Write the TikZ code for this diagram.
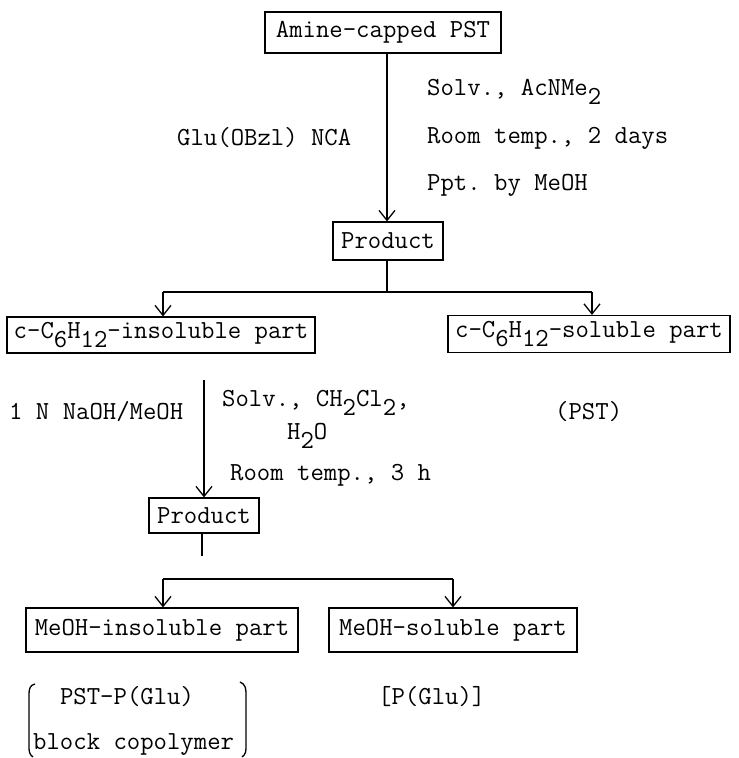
\documentclass[tikz,border=0pt]{standalone}
\usepackage{fontspec}
\usetikzlibrary{arrows.meta}
\newcommand{\lsub}[1]{\raisebox{-9pt}{#1}}
\begin{document}
\frenchspacing
\begin{tikzpicture}[x=1pt,y=-1pt,
  every node/.style={font=\ttfamily\fontsize{26}{30}\selectfont, inner sep=0pt},
  box/.style={draw, line width=1.2pt, minimum height=38pt},
  lbl/.style={anchor=west},
  conn/.style={line width=1.3pt},
  arr/.style={conn, -{Straight Barb[length=10pt,width=16pt,line width=1.3pt]}}]
\useasboundingbox (0,0) rectangle (739,758);
% boxes
\node[box, minimum width=236pt, minimum height=41pt] (top) at (383,32.5) {Amine-capped PST};
\node[box, minimum width=110pt] (prod1) at (388,241) {Product};
\node[box, minimum width=308pt, minimum height=36pt] (cins) at (161,335) {c-C\lsub{6}H\lsub{12}-insoluble part};
\node[box, minimum width=282pt, minimum height=37pt] (csol) at (589,334) {c-C\lsub{6}H\lsub{12}-soluble part};
\node[box, minimum width=110pt, minimum height=35pt] (prod2) at (204,515.5) {Product};
\node[box, minimum width=272pt, minimum height=44pt] (mins) at (162,630) {MeOH-insoluble part};
\node[box, minimum width=248pt, minimum height=44pt] (msol) at (453,630) {MeOH-soluble part};
% labels
\node[lbl] (g1) at (177,138) {Glu(OBzl) NCA};
\node[lbl] (c1) at (427,92) {Solv., AcNMe\lsub{2}};
\node[lbl] (c2) at (427,138) {Room temp., 2 days};
\node[lbl] (c3) at (427,185) {Ppt. by MeOH};
\node[lbl] (n1) at (9,412) {1 N NaOH/MeOH};
\node[lbl] (d1) at (222,403) {Solv., CH\lsub{2}Cl\lsub{2},};
\node[lbl] (d2) at (287,436) {H\lsub{2}O};
\node[lbl] (d3) at (230,475) {Room temp., 3 h};
\node[lbl] (pst) at (555,412) {(PST)};
\node (b1) at (127,697) {PST-P(Glu)};
\node[lbl] (b2) at (33,745) {block copolymer};
\node[lbl] (pg) at (378,697) {[P(Glu)]};
% brackets
\draw[conn] (35,684) .. controls (30,685) and (29,689) .. (29,694) -- (29,748) .. controls (29,752) and (30,755) .. (33,757);
\draw[conn] (240,682) .. controls (245,684) and (246,688) .. (246,693) -- (246,748) .. controls (246,752) and (245,755) .. (242,757);
% connectors
\coordinate (j1) at (387,292);
\coordinate (jl) at (163,292);
\coordinate (jr) at (592,292);
\draw[arr] (top.south -| j1) -- (prod1.north -| j1);
\draw[conn] (prod1.south -| j1) -- (j1);
\draw[conn] (jl) -- (jr);
\draw[arr] (jl) -- (jl |- cins.north);
\draw[arr] (jr) -- (jr |- csol.north);
\coordinate (s2) at (204,380);
\draw[arr] (s2) -- (prod2.north);
\coordinate (e2) at (202,556);
\draw[conn] (prod2.south -| e2) -- (e2);
\coordinate (kl) at (163,579);
\coordinate (kr) at (453,579);
\draw[conn] (kl) -- (kr);
\draw[arr] (kl) -- (kl |- mins.north);
\draw[arr] (kr) -- (kr |- msol.north);
\end{tikzpicture}
\end{document}
